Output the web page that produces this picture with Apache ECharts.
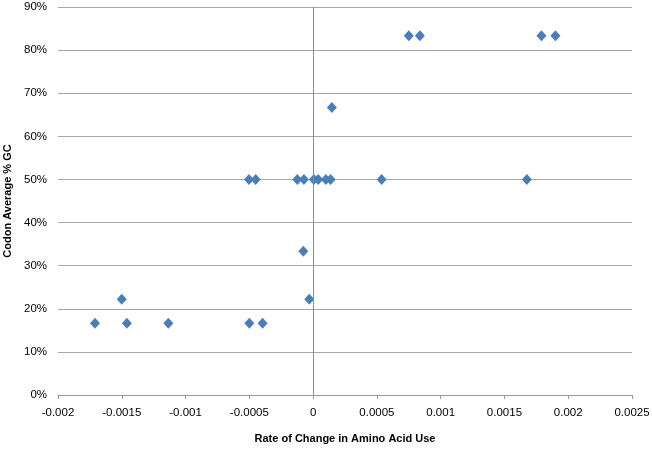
<!DOCTYPE html>
<html>
<head>
<meta charset="utf-8">
<script src="https://cdn.jsdelivr.net/npm/echarts@6/dist/echarts.min.js"></script>
<style>
  html, body { margin: 0; padding: 0; background: #fff; }
  #main { width: 652px; height: 449px; }
</style>
</head>
<body>
<div id="main"></div>
<script>
// rate of change in amino acid use (x) and codon average GC fraction (y)
var rateChange = [
  -0.00171, -0.0015, -0.00146, -0.001135, -0.0005, -0.000396,
  -0.000077, -0.00003,
  -0.000503, -0.00045, -0.000124, -0.000072, 0.000006, 0.00004,
  0.0001, 0.000137, 0.000537, 0.001676,
  0.000147,
  0.00075, 0.000837, 0.00179, 0.0019
];
var gcAverage = [
  0.1667, 0.2222, 0.1667, 0.1667, 0.1667, 0.1667,
  0.3333, 0.2222,
  0.5, 0.5, 0.5, 0.5, 0.5, 0.5,
  0.5, 0.5, 0.5, 0.5,
  0.6667,
  0.8333, 0.8333, 0.8333, 0.8333
];
var xTicks = [-0.002, -0.0015, -0.001, -0.0005, 0, 0.0005, 0.001, 0.0015, 0.002, 0.0025];

var points = rateChange.map(function (x, i) { return [x, gcAverage[i]]; });

var chart = echarts.init(document.getElementById('main'));
var font = '"Liberation Sans", "DejaVu Sans", sans-serif';

chart.setOption({
  animation: false,
  grid: { left: 58, right: 20, top: 7, bottom: 54, containLabel: false, outerBoundsMode: 'none' },
  xAxis: {
    type: 'value',
    min: -0.002,
    max: 0.0025,
    interval: 0.0005,
    name: 'Rate of Change in Amino Acid Use',
    nameLocation: 'middle',
    nameGap: 38,
    nameTextStyle: { fontFamily: font, fontSize: 11, fontWeight: 'bold', color: '#000' },
    axisLine: { onZero: false, lineStyle: { color: '#999', width: 1 } },
    axisTick: { show: true, length: 4, lineStyle: { color: '#999' } },
    axisLabel: {
      fontFamily: font, fontSize: 11.5, color: '#000', margin: 12,
      formatter: function (v) {
        var t = xTicks.filter(function (k) { return Math.abs(k - v) < 1e-9; });
        return t.length ? String(t[0]) : '';
      }
    },
    splitLine: { show: false }
  },
  yAxis: {
    type: 'value',
    min: 0,
    max: 0.9,
    interval: 0.1,
    name: 'Codon Average % GC',
    nameLocation: 'middle',
    nameGap: 44,
    nameTextStyle: { fontFamily: font, fontSize: 11, fontWeight: 'bold', color: '#000' },
    axisLine: { show: false },
    axisTick: { show: false },
    axisLabel: {
      fontFamily: font, fontSize: 11.5, color: '#000', margin: 11,
      formatter: function (v) { return Math.round(v * 100) + '%'; }
    },
    splitLine: { lineStyle: { color: '#a6a6a6', width: 1 } }
  },
  series: [{
    type: 'scatter',
    symbol: 'diamond',
    symbolSize: [10, 11],
    itemStyle: { color: '#4A7EBB', opacity: 1 },
    data: points,
    markLine: {
      silent: true,
      symbol: 'none',
      label: { show: false },
      lineStyle: { color: '#8c8c8c', type: 'solid', width: 1 },
      data: [{ xAxis: 0 }]
    },
    z: 3
  }]
});
</script>
</body>
</html>
